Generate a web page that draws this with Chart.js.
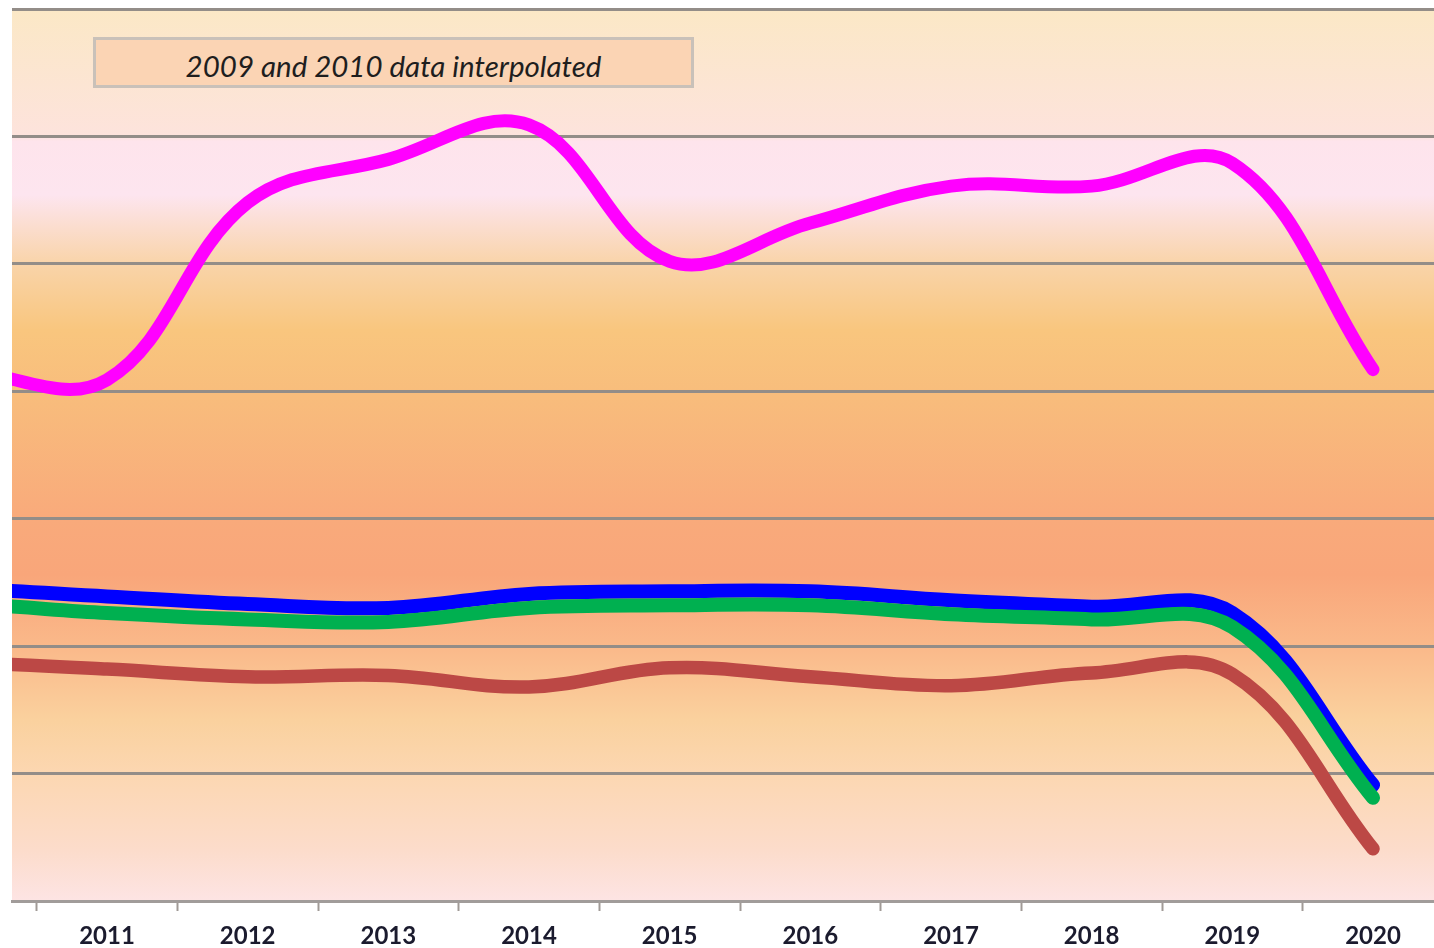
<!DOCTYPE html>
<html>
<head>
<meta charset="utf-8">
<script src="https://cdn.jsdelivr.net/npm/chart.js@4.4.0/dist/chart.umd.min.js"></script>
<style>
html,body{margin:0;padding:0;background:#ffffff;}
#wrap{position:relative;width:1434px;height:948px;overflow:hidden;}
#note{position:absolute;left:93px;top:37px;width:601px;height:51px;box-sizing:border-box;
  border:3px solid #c9c1b9;background:#fbd4b4;font-family:Lato,'Open Sans',sans-serif;
  font-style:italic;font-size:29.5px;color:#1e1e1e;text-align:center;line-height:52px;}
</style>
</head>
<body>
<div id="wrap">
  <canvas id="c" width="1434" height="948"></canvas>
  <div id="note">2009 and 2010 data interpolated</div>
</div>
<script>
// ---- data ----
const years     = [2009, 2010, 2011, 2012, 2013, 2014, 2015, 2016, 2017, 2018, 2019, 2020];
const tickYears = [2011, 2012, 2013, 2014, 2015, 2016, 2017, 2018, 2019, 2020];
const magentaSeries = [42.5, 41.6, 40.9, 54.8, 58.2, 60.9, 50.2, 53.2, 56.1, 56.1, 57.9, 41.7];
const blueSeries    = [24.8, 24.5, 23.9, 23.3, 23.0, 24.1, 24.3, 24.3, 23.6, 23.1, 22.6, 9.1];
const greenSeries   = [23.5, 23.3, 22.6, 22.1, 21.9, 23.0, 23.2, 23.2, 22.5, 22.1, 21.5, 8.1];
const redSeries     = [19.0, 18.7, 18.2, 17.6, 17.7, 16.8, 18.3, 17.6, 16.9, 17.9, 17.8, 4.1];

// background gradient stops, in y-axis value units
const bgStops = [
  [70, '#fbe8c6'], [60.1, '#fde3dc'], [59.6, '#fee4ec'], [55.4, '#fde5ef'],
  [50.1, '#f9d4aa'], [44.8, '#f9c67e'], [39.9, '#f8bd7c'], [30.0, '#f9aa7b'],
  [25.6, '#f9a67a'], [19.9, '#fab98a'], [14.2, '#fad19e'], [9.8, '#fcd7b2'],
  [4.0, '#fcdccb'], [0, '#fde4e4']
];

const toXY = arr => years.map((x, i) => ({x: x, y: arr[i]}));

const bgPlugin = {
  id: 'bgGradient',
  beforeDraw(chart) {
    const {ctx, chartArea: a, scales} = chart;
    const g = ctx.createLinearGradient(0, a.top, 0, a.bottom);
    bgStops.forEach(([v, c]) => {
      const p = scales.y.getPixelForValue(v);
      g.addColorStop(Math.min(1, Math.max(0, (p - a.top) / (a.bottom - a.top))), c);
    });
    ctx.save();
    ctx.fillStyle = g;
    ctx.fillRect(a.left, a.top, a.right - a.left, a.bottom - a.top);
    ctx.restore();
  }
};

const lineStyle = (color, w) => ({
  borderColor: color, backgroundColor: color, borderWidth: w,
  pointRadius: 0, pointHoverRadius: 0, tension: 0.38, fill: false,
  borderCapStyle: 'round', borderJoinStyle: 'round',
  clip: {left: 0, top: 20, right: 20, bottom: 20}
});

new Chart(document.getElementById('c'), {
  type: 'line',
  data: {
    datasets: [
      Object.assign({label: 'Series 1', data: toXY(magentaSeries)}, lineStyle('#ff00ff', 13)),
      Object.assign({label: 'Series 3', data: toXY(greenSeries)}, lineStyle('#00b050', 14)),
      Object.assign({label: 'Series 2', data: toXY(blueSeries)}, lineStyle('#0000ff', 14)),
      Object.assign({label: 'Series 4', data: toXY(redSeries)}, lineStyle('#bc4845', 13.5))
    ]
  },
  options: {
    responsive: false,
    animation: false,
    events: [],
    layout: {padding: {left: 12, top: 9, right: 0, bottom: 0}},
    elements: {line: {capBezierPoints: false}},
    plugins: {legend: {display: false}, tooltip: {enabled: false}},
    scales: {
      x: {
        type: 'linear',
        position: 'bottom',
        min: 2010.3246,
        max: 2020.4336,
        afterBuildTicks: s => { s.ticks = tickYears.map(v => ({value: v})); },
        afterFit: s => { s.height = 47; },
        ticks: {
          callback: v => String(v),
          font: {family: 'Lato', weight: 'bold', size: 24},
          color: '#1b1b2e',
          padding: 11,
          maxRotation: 0,
          autoSkip: false
        },
        grid: {
          offset: true,
          drawOnChartArea: false,
          drawTicks: true,
          tickLength: 10,
          tickWidth: 2,
          tickColor: '#a09a96'
        },
        border: {display: true, color: '#a19c9a', width: 3}
      },
      y: {
        min: 0,
        max: 70,
        ticks: {display: false, stepSize: 10},
        grid: {color: '#938d88', lineWidth: 3, drawTicks: false},
        border: {display: false}
      }
    }
  },
  plugins: [bgPlugin]
});
</script>
</body>
</html>
